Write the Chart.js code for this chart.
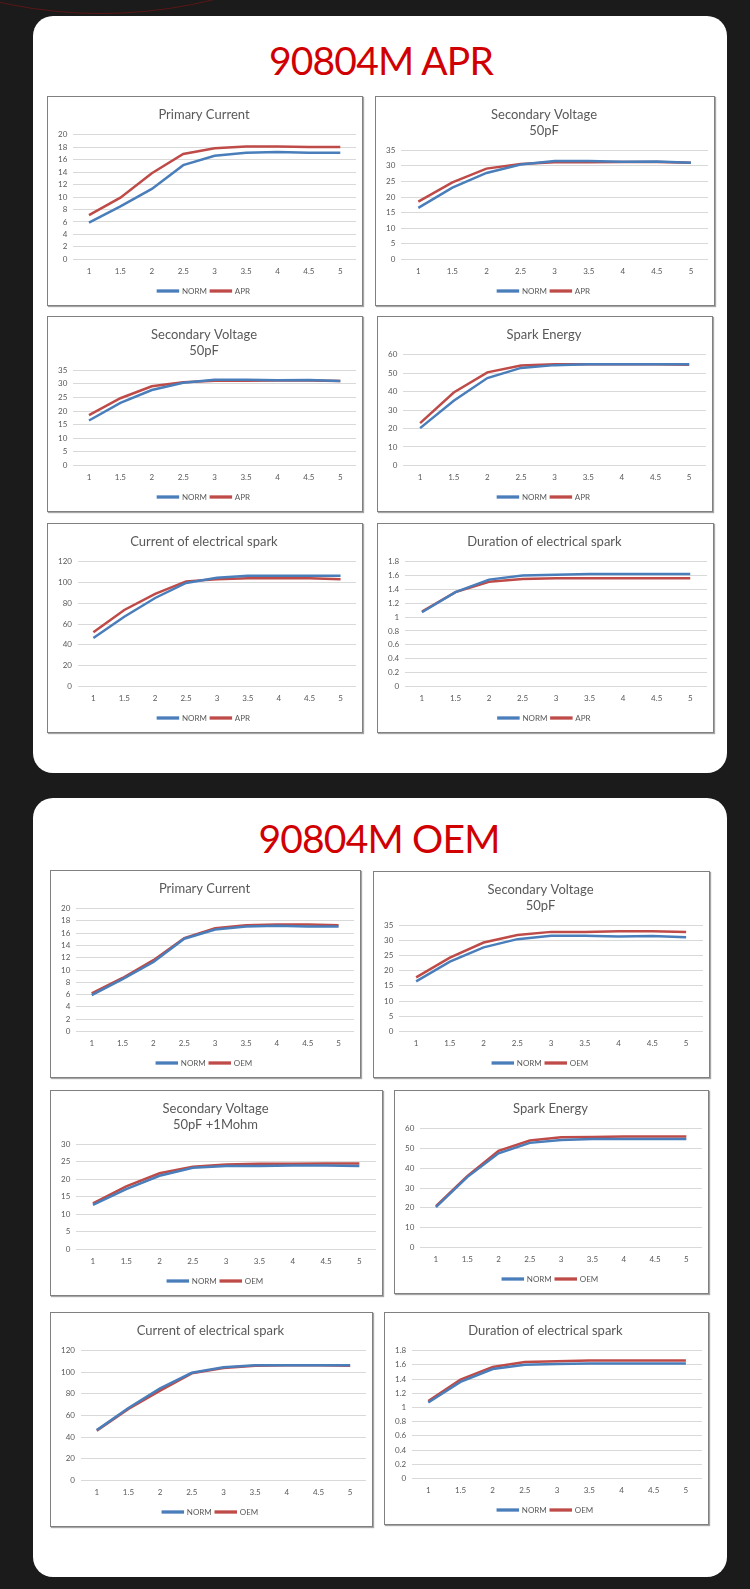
<!DOCTYPE html>
<html lang="en">
<head>
  <meta charset="UTF-8">
  <title>90804M APR / OEM</title>
  <script src="https://cdn.jsdelivr.net/npm/chart.js"></script>
  <style>
    body { margin: 0; background: #1b1b1b; width: 750px; height: 1589px; position: relative; overflow: hidden; font-family: Lato, sans-serif; }
    .arc { position: absolute; left: -365px; top: -918px; width: 930px; height: 930px; border-radius: 50%; border: 1px solid #5a1616; }
    .panel { position: absolute; left: 33px; width: 694px; background: #fff; border-radius: 20px; }
    .heading { position: absolute; left: 33px; width: 694px; text-align: center; color: #d10000; font-size: 39px; line-height: 1; letter-spacing: -0.8px; }
    .box { position: absolute; background: #fff; border: 1px solid #808080; box-shadow: 1px 1px 1px rgba(0,0,0,0.35); box-sizing: border-box; }
    .box canvas { width: 100% !important; height: 100% !important; }
  </style>
</head>
<body>
  <div class="arc"></div>

  <div class="panel" style="top:16px; height:757px;"></div>
  <div class="heading" style="top:41px; left:34px;">90804M APR</div>
  <div class="box" style="left:47px; top:96px; width:316px; height:210px;"><canvas id="aprPrimary"></canvas></div>
  <div class="box" style="left:375px; top:96px; width:340px; height:210px;"><canvas id="aprSecondary"></canvas></div>
  <div class="box" style="left:47px; top:316px; width:316px; height:196px;"><canvas id="aprSecondary2"></canvas></div>
  <div class="box" style="left:377px; top:316px; width:336px; height:196px;"><canvas id="aprEnergy"></canvas></div>
  <div class="box" style="left:47px; top:523px; width:316px; height:210px;"><canvas id="aprSparkCurrent"></canvas></div>
  <div class="box" style="left:377px; top:523px; width:337px; height:210px;"><canvas id="aprDuration"></canvas></div>

  <div class="panel" style="top:798px; height:779px;"></div>
  <div class="heading" style="top:819px; left:32px;">90804M OEM</div>
  <div class="box" style="left:50px; top:870px; width:311px; height:208px;"><canvas id="oemPrimary"></canvas></div>
  <div class="box" style="left:373px; top:871px; width:337px; height:207px;"><canvas id="oemSecondary"></canvas></div>
  <div class="box" style="left:50px; top:1090px; width:333px; height:206px;"><canvas id="oemSecondaryR"></canvas></div>
  <div class="box" style="left:394px; top:1090px; width:315px; height:204px;"><canvas id="oemEnergy"></canvas></div>
  <div class="box" style="left:50px; top:1312px; width:323px; height:215px;"><canvas id="oemSparkCurrent"></canvas></div>
  <div class="box" style="left:384px; top:1312px; width:325px; height:213px;"><canvas id="oemDuration"></canvas></div>

  <script>
    const xLabels = ['1', '1.5', '2', '2.5', '3', '3.5', '4', '4.5', '5'];

    // 90804M APR
    const primaryNorm = [5.9, 8.5, 11.3, 15.1, 16.6, 17.1, 17.2, 17.1, 17.1];
    const primaryApr = [7.1, 9.9, 13.8, 16.9, 17.8, 18.1, 18.1, 18.0, 18.0];
    const secondaryNorm = [16.5, 23.0, 27.7, 30.4, 31.5, 31.5, 31.3, 31.4, 31.0];
    const secondaryApr = [18.5, 24.7, 29.1, 30.6, 31.1, 31.1, 31.2, 31.2, 31.0];
    const energyNormA = [20.2, 35.0, 47.3, 52.8, 54.3, 54.8, 54.8, 54.8, 54.8];
    const energyApr = [22.9, 39.5, 50.4, 54.1, 54.8, 54.8, 54.8, 54.8, 54.5];
    const sparkCurrentNorm = [46.5, 67, 85, 99.5, 104.5, 106.5, 106.5, 106.5, 106.5];
    const sparkCurrentApr = [52, 73.5, 89, 101, 103, 104, 104, 104, 103];
    const durationNorm = [1.07, 1.36, 1.54, 1.60, 1.61, 1.62, 1.62, 1.62, 1.62];
    const durationApr = [1.08, 1.36, 1.51, 1.55, 1.56, 1.56, 1.56, 1.56, 1.56];

    // 90804M OEM
    const primaryOem = [6.2, 8.7, 11.6, 15.2, 16.8, 17.3, 17.4, 17.4, 17.3];
    const secondaryOem = [17.8, 24.3, 29.3, 31.8, 32.8, 32.8, 33.0, 33.0, 32.8];
    const secondaryRNorm = [12.7, 17.2, 21.0, 23.3, 23.8, 23.8, 23.9, 23.9, 23.8];
    const secondaryROem = [13.1, 18.0, 21.7, 23.6, 24.2, 24.4, 24.4, 24.5, 24.5];
    const energyNormB = [20.3, 35.5, 47.5, 52.8, 54.3, 54.7, 54.7, 54.7, 54.7];
    const energyOem = [20.8, 36.0, 48.8, 54.0, 55.6, 55.8, 56.0, 56.0, 56.0];
    const sparkCurrentOem = [46, 66, 83, 99, 104, 106, 106.5, 106.5, 106];
    const durationOem = [1.09, 1.39, 1.57, 1.64, 1.65, 1.66, 1.66, 1.66, 1.66];

    const BLUE = '#4a7ebb';
    const RED = '#be4b48';
    const GREY = '#595959';

    Chart.defaults.font.family = 'Lato, sans-serif';
    Chart.defaults.color = GREY;

    function makeChart(id, title, otherName, normData, otherData, yMax, yStep) {
      const ctx = document.getElementById(id).getContext('2d');
      return new Chart(ctx, {
        type: 'line',
        data: {
          labels: xLabels,
          datasets: [
            { label: 'NORM', data: normData, borderColor: BLUE, backgroundColor: BLUE, borderWidth: 2.5, pointRadius: 0, tension: 0 },
            { label: otherName, data: otherData, borderColor: RED, backgroundColor: RED, borderWidth: 2.5, pointRadius: 0, tension: 0 },
          ],
        },
        options: {
          responsive: true,
          maintainAspectRatio: false,
          animation: false,
          layout: { padding: { left: 4, right: 6, top: 0, bottom: 0 } },
          plugins: {
            title: {
              display: true,
              text: title,
              color: GREY,
              font: { size: 13, weight: 'normal' },
              lineHeight: 1.25,
              padding: { top: 10, bottom: 12 },
            },
            legend: {
              position: 'bottom',
              labels: { boxWidth: 20, boxHeight: 0.8, font: { size: 8 }, color: GREY, padding: 4 },
            },
            tooltip: { enabled: false },
          },
          scales: {
            x: {
              offset: true,
              grid: { display: false, drawTicks: false },
              border: { display: false },
              ticks: { font: { size: 8 }, color: GREY, padding: 7 },
            },
            y: {
              min: 0,
              max: yMax,
              ticks: {
                stepSize: yStep,
                autoSkip: false,
                font: { size: 8 },
                color: GREY,
                padding: 6,
                callback: (v) => String(+v.toFixed(1)),
              },
              grid: { color: '#d9d9d9', drawTicks: false },
              border: { display: false },
            },
          },
        },
      });
    }

    makeChart('aprPrimary', 'Primary Current', 'APR', primaryNorm, primaryApr, 20, 2);
    makeChart('aprSecondary', ['Secondary Voltage', '50pF'], 'APR', secondaryNorm, secondaryApr, 35, 5);
    makeChart('aprSecondary2', ['Secondary Voltage', '50pF'], 'APR', secondaryNorm, secondaryApr, 35, 5);
    makeChart('aprEnergy', 'Spark Energy', 'APR', energyNormA, energyApr, 60, 10);
    makeChart('aprSparkCurrent', 'Current of electrical spark', 'APR', sparkCurrentNorm, sparkCurrentApr, 120, 20);
    makeChart('aprDuration', 'Duration of electrical spark', 'APR', durationNorm, durationApr, 1.8, 0.2);

    makeChart('oemPrimary', 'Primary Current', 'OEM', primaryNorm, primaryOem, 20, 2);
    makeChart('oemSecondary', ['Secondary Voltage', '50pF'], 'OEM', secondaryNorm, secondaryOem, 35, 5);
    makeChart('oemSecondaryR', ['Secondary Voltage', '50pF +1Mohm'], 'OEM', secondaryRNorm, secondaryROem, 30, 5);
    makeChart('oemEnergy', 'Spark Energy', 'OEM', energyNormB, energyOem, 60, 10);
    makeChart('oemSparkCurrent', 'Current of electrical spark', 'OEM', sparkCurrentNorm, sparkCurrentOem, 120, 20);
    makeChart('oemDuration', 'Duration of electrical spark', 'OEM', durationNorm, durationOem, 1.8, 0.2);
  </script>
</body>
</html>
